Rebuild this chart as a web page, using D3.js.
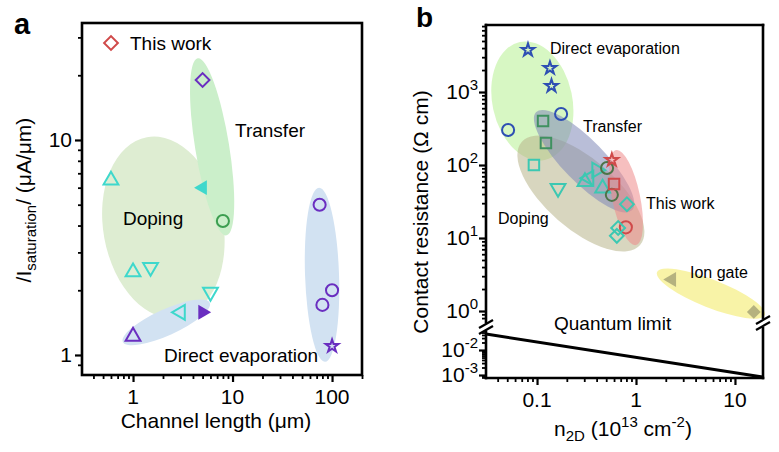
<!DOCTYPE html>
<html>
<head>
<meta charset="utf-8">
<script src="https://cdn.jsdelivr.net/npm/d3@7"></script>
<style>
  body { margin: 0; background: #fff; }
  svg { font-family: "Liberation Sans", Arial, sans-serif; }
</style>
</head>
<body>
<script>
// ---- panel a data ----
const aLength  = [5, 0.6, 5, 8, 1, 1.5, 6, 3, 5, 1, 75, 80, 100, 100]
const aCurrent = [19, 6.5, 6.0, 4.2, 2.43, 2.56, 1.96, 1.58, 1.58, 1.22, 5.0, 1.71, 2.0, 1.1]
const aShape   = ['diamond', 'triUp', 'triLeftF', 'circle', 'triUp', 'triDown', 'triDown', 'triLeft', 'triRightF', 'triUp', 'circle', 'circle', 'circle', 'star']
const aGroup   = ['purple', 'cyan', 'cyan', 'green', 'cyan', 'cyan', 'cyan', 'cyan', 'purple', 'purple', 'purple', 'purple', 'purple', 'purple']
// shaded regions: major axis ends in data units
const aRegionName = ['Doping', 'Transfer', 'Direct evaporation', 'Direct evaporation']
const aRegionEnds = [[[1.38, 10.3], [2.95, 1.49]], [[4.47, 24], [8.7, 3.6]], [[0.79, 1.15], [5.9, 1.75]], [[74, 6.0], [85, 0.93]]]
const aXTicks = [1, 10, 100]
const aYTicks = [1, 10]

// ---- panel b data ----
const bDensity = [0.081, 0.135, 0.14, 0.051, 0.175, 0.115, 0.123, 0.093, 0.163, 0.305, 0.335, 0.40, 0.46, 0.51, 0.57, 0.57, 0.6, 0.81, 0.79, 0.66, 0.64, 2.3, 15.5]
const bResist  = [3760, 2130, 1210, 302, 500, 400, 200, 100, 48, 59, 66, 85, 48, 91, 39, 117, 55, 29, 14, 13.7, 10.7, 2.7, 0.97]
const bShape   = ['star', 'star', 'star', 'circle', 'circle', 'square', 'square', 'square', 'triDown', 'triUp', 'triLeft', 'triRight', 'triUp', 'circle', 'circle', 'star', 'square', 'diamond', 'circle', 'diamond', 'diamond', 'triLeftF', 'diamondF']
const bGroup   = ['blue', 'blue', 'blue', 'blue', 'blue', 'dgreen', 'dgreen', 'teal', 'teal', 'teal', 'teal', 'teal', 'teal', 'olivegreen', 'olivegreen', 'red', 'red', 'teal', 'red', 'teal', 'teal', 'olive', 'olive']
const bRegionName = ['Direct evaporation', 'Doping', 'Transfer', 'This work', 'Ion gate']
const bRegionEnds = [[[0.067, 4840], [0.12, 117]], [[0.07, 207], [1.1, 8.0]], [[0.098, 532], [0.91, 24]], [[0.63, 160], [1.0, 8.0]], [[1.63, 3.4], [20, 0.88]]]
const quantumN = [0.0305, 19]
const quantumR = [0.0437, 0.00083]
const bXTicks = [0.1, 1, 10]
const bYTicksUp = [1, 10, 100, 1000]
const bYTicksLow = [0.001, 0.01]

// ---- styling ----
const colors = {
    purple: '#6a2ec0', cyan: '#3ed8cc', green: '#3c9e50', red: '#d04a4a',
    blue: '#2e4fb3', dgreen: '#3f9160', teal: '#3cc8b2', olivegreen: '#4d7448', olive: '#b5b27f'
}
const aRegionStyle = [
    { fill: '#deedd2', w: 120 }, { fill: '#cbefca', w: 34 },
    { fill: '#d2e2f2', w: 26 }, { fill: '#d2e2f2', w: 34 }
]
const bRegionStyle = [
    { fill: '#cdf5b4', op: 0.8, w: 80 }, { fill: '#b8b48a', op: 0.55, w: 70 },
    { fill: '#8088b8', op: 0.55, w: 42 }, { fill: '#ee8a8a', op: 0.55, w: 28 },
    { fill: '#f5ef8a', op: 0.75, w: 28 }
]
const font = 21

const svg = d3.select('body').append('svg')
    .attr('width', 779)
    .attr('height', 452)

// symbol path + rotation per shape name
function markerPath(shape) {
    let type = d3.symbolTriangle, size = 95
    if (shape.startsWith('circle')) { type = d3.symbolCircle; size = 115 }
    if (shape.startsWith('square')) { type = d3.symbolSquare; size = 110 }
    if (shape.startsWith('diamond')) { type = d3.symbolSquare; size = 95 }
    if (shape.startsWith('star')) { type = d3.symbolStar; size = 50 }
    return d3.symbol().type(type).size(size)()
}
function markerRot(shape) {
    if (shape.startsWith('diamond')) return 45
    if (shape.startsWith('triDown')) return 180
    if (shape.startsWith('triLeft')) return -90
    if (shape.startsWith('triRight')) return 90
    return 0
}
function isFilled(shape) { return shape.endsWith('F') }

function drawMarkers(g, xs, ys, shapes, groups, x, y) {
    g.selectAll('path.mk')
        .data(xs.map((v, i) => i))
        .join('path')
        .attr('class', 'mk')
        .attr('d', i => markerPath(shapes[i]))
        .attr('transform', i => `translate(${x(xs[i])},${y(ys[i])}) rotate(${markerRot(shapes[i])})`)
        .attr('fill', i => isFilled(shapes[i]) ? colors[groups[i]] : 'none')
        .attr('stroke', i => isFilled(shapes[i]) ? 'none' : colors[groups[i]])
        .attr('stroke-width', 2)
        .attr('stroke-linejoin', 'miter')
}

function drawRegions(g, ends, styles, x, y) {
    g.selectAll('ellipse')
        .data(ends)
        .join('ellipse')
        .each(function (e, i) {
            const x1 = x(e[0][0]), y1 = y(e[0][1]), x2 = x(e[1][0]), y2 = y(e[1][1])
            const len = Math.hypot(x2 - x1, y2 - y1)
            const ang = Math.atan2(y2 - y1, x2 - x1) * 180 / Math.PI
            d3.select(this)
                .attr('cx', 0).attr('cy', 0)
                .attr('rx', len / 2).attr('ry', styles[i].w / 2)
                .attr('transform', `translate(${(x1 + x2) / 2},${(y1 + y2) / 2}) rotate(${ang})`)
                .attr('fill', styles[i].fill)
                .attr('opacity', styles[i].op || 1)
        })
}

function minorsBetween(lo, hi) {
    let out = []
    for (let e = Math.floor(Math.log10(lo)); e <= Math.ceil(Math.log10(hi)); e++) {
        for (let m = 2; m <= 9; m++) {
            const v = m * Math.pow(10, e)
            if (v >= lo && v <= hi) out.push(+v.toPrecision(3))
        }
    }
    return out
}

function addAxis(g, axisFn, scale, majors, pos) {
    const [lo, hi] = scale.domain()
    g.append('g').attr('transform', pos)
        .call(axisFn(scale).tickValues(minorsBetween(lo, hi)).tickSize(4).tickFormat('').tickSizeOuter(0))
        .call(a => a.select('.domain').remove())
        .call(a => a.selectAll('line').attr('stroke-width', 1.8))
    g.append('g').attr('transform', pos)
        .call(axisFn(scale).tickValues(majors).tickSize(7).tickFormat('').tickSizeOuter(0))
        .call(a => a.select('.domain').remove())
        .call(a => a.selectAll('line').attr('stroke-width', 2.2))
}

// ===================== panel a =====================
const A = { left: 82, right: 362, top: 23, bottom: 375 }
const xa = d3.scaleLog().domain([0.307, 200]).range([A.left, A.right])
const ya = d3.scaleLog().domain([0.807, 35]).range([A.bottom, A.top])
const ga = svg.append('g')

drawRegions(ga.append('g'), aRegionEnds, aRegionStyle, xa, ya)
drawMarkers(ga.append('g'), aLength, aCurrent, aShape, aGroup, xa, ya)

addAxis(ga, d3.axisBottom, xa, aXTicks, `translate(0,${A.bottom})`)
addAxis(ga, d3.axisLeft, ya, aYTicks, `translate(${A.left},0)`)

ga.append('rect')
    .attr('x', A.left).attr('y', A.top)
    .attr('width', A.right - A.left).attr('height', A.bottom - A.top)
    .attr('fill', 'none').attr('stroke', '#000').attr('stroke-width', 2.6)

ga.selectAll('text.xt').data(aXTicks).join('text')
    .attr('x', d => xa(d)).attr('y', A.bottom + 29)
    .attr('text-anchor', 'middle').attr('font-size', font)
    .text(d => d)
ga.selectAll('text.yt').data(aYTicks).join('text')
    .attr('x', A.left - 10).attr('y', d => ya(d) + 7)
    .attr('text-anchor', 'end').attr('font-size', font)
    .text(d => d)

ga.append('text')
    .attr('x', (A.left + A.right) / 2 - 6).attr('y', 428)
    .attr('text-anchor', 'middle').attr('font-size', font)
    .text('Channel length (μm)')

const aYLabel = ga.append('text')
    .attr('transform', 'translate(31,200) rotate(-90)')
    .attr('text-anchor', 'middle').attr('font-size', font)
aYLabel.append('tspan').text('/I')
aYLabel.append('tspan').attr('font-size', 15).attr('dy', 5).text('saturation')
aYLabel.append('tspan').attr('dy', -5).text('/ (μA/μm)')

// legend
ga.append('path')
    .attr('d', markerPath('diamond'))
    .attr('transform', 'translate(111,43) rotate(45)')
    .attr('fill', 'none').attr('stroke', colors.red).attr('stroke-width', 2)
ga.append('text').attr('x', 130).attr('y', 50).attr('font-size', 19).text('This work')

ga.append('text').attr('x', 235).attr('y', 137).attr('font-size', 19).text('Transfer')
ga.append('text').attr('x', 123).attr('y', 225).attr('font-size', 19).text('Doping')
ga.append('text').attr('x', 164).attr('y', 362).attr('font-size', 19).text('Direct evaporation')

svg.append('text').attr('x', 14).attr('y', 34)
    .attr('font-size', 29).attr('font-weight', 'bold').text('a')

// ===================== panel b =====================
const B = { left: 486, right: 763, top: 25, bottom: 378, breakTop: 322, breakBot: 332 }
const xb = d3.scaleLog().domain([0.0305, 19.2]).range([B.left, B.right])
const ybUp = d3.scaleLog().domain([0.707, 8280]).range([B.breakTop, B.top])
const ybLow = d3.scaleLog().domain([0.00076, 0.0525]).range([B.bottom, B.breakBot])
const gb = svg.append('g')

drawRegions(gb.append('g'), bRegionEnds, bRegionStyle, xb, ybUp)
drawMarkers(gb.append('g'), bDensity, bResist, bShape, bGroup, xb, ybUp)

// quantum limit line
gb.append('path')
    .datum(quantumN.map((n, i) => [n, quantumR[i]]))
    .attr('d', d3.line().x(d => xb(d[0])).y(d => ybLow(d[1])))
    .attr('stroke', '#000').attr('stroke-width', 3).attr('fill', 'none')

addAxis(gb, d3.axisBottom, xb, bXTicks, `translate(0,${B.bottom})`)
addAxis(gb, d3.axisLeft, ybUp, bYTicksUp, `translate(${B.left},0)`)
addAxis(gb, d3.axisLeft, ybLow, bYTicksLow, `translate(${B.left},0)`)

// frame with break
const frame = [
    [[B.left, B.top], [B.right, B.top]],
    [[B.left, B.bottom], [B.right, B.bottom]],
    [[B.left, B.top], [B.left, B.breakTop]],
    [[B.left, B.breakBot], [B.left, B.bottom]],
    [[B.right, B.top], [B.right, B.breakTop - 4]],
    [[B.right, B.breakBot - 4], [B.right, B.bottom]]
]
gb.selectAll('line.frame').data(frame).join('line')
    .attr('x1', d => d[0][0]).attr('y1', d => d[0][1])
    .attr('x2', d => d[1][0]).attr('y2', d => d[1][1])
    .attr('stroke', '#000').attr('stroke-width', 2.6).attr('stroke-linecap', 'square')

// break slashes
const slashes = [[B.left, 324], [B.left, 330], [B.right, 320], [B.right, 326]]
gb.selectAll('line.sl').data(slashes).join('line')
    .attr('x1', d => d[0] - 7).attr('y1', d => d[1] + 4)
    .attr('x2', d => d[0] + 7).attr('y2', d => d[1] - 4)
    .attr('stroke', '#000').attr('stroke-width', 2.2)

gb.selectAll('text.xt').data(bXTicks).join('text')
    .attr('x', d => xb(d)).attr('y', B.bottom + 29)
    .attr('text-anchor', 'middle').attr('font-size', font)
    .text(d => d)

function powLabel(g, v, y) {
    const t = g.append('text').attr('x', B.left - 8).attr('y', y + 7)
        .attr('text-anchor', 'end').attr('font-size', font)
    t.append('tspan').text('10')
    t.append('tspan').attr('font-size', 15).attr('dy', -9).text(Math.round(Math.log10(v)))
}
bYTicksUp.forEach(v => powLabel(gb, v, ybUp(v)))
bYTicksLow.forEach(v => powLabel(gb, v, ybLow(v)))

const bXLabel = gb.append('text')
    .attr('x', 623).attr('y', 436)
    .attr('text-anchor', 'middle').attr('font-size', font)
bXLabel.append('tspan').text('n')
bXLabel.append('tspan').attr('font-size', 15).attr('dy', 5).text('2D')
bXLabel.append('tspan').attr('dy', -5).text(' (10')
bXLabel.append('tspan').attr('font-size', 15).attr('dy', -9).text('13')
bXLabel.append('tspan').attr('dy', 9).text(' cm')
bXLabel.append('tspan').attr('font-size', 15).attr('dy', -9).text('-2')
bXLabel.append('tspan').attr('dy', 9).text(')')

gb.append('text')
    .attr('transform', 'translate(428,212) rotate(-90)')
    .attr('text-anchor', 'middle').attr('font-size', font)
    .text('Contact resistance (Ω cm)')

gb.append('text').attr('x', 550).attr('y', 54).attr('font-size', 16).text('Direct evaporation')
gb.append('text').attr('x', 583).attr('y', 132).attr('font-size', 16).text('Transfer')
gb.append('text').attr('x', 646).attr('y', 209).attr('font-size', 16).text('This work')
gb.append('text').attr('x', 498).attr('y', 224).attr('font-size', 16).text('Doping')
gb.append('text').attr('x', 690).attr('y', 278).attr('font-size', 16).text('Ion gate')
gb.append('text').attr('x', 554).attr('y', 330).attr('font-size', 19).text('Quantum limit')

svg.append('text').attr('x', 416).attr('y', 27)
    .attr('font-size', 28).attr('font-weight', 'bold').text('b')
</script>
</body>
</html>
